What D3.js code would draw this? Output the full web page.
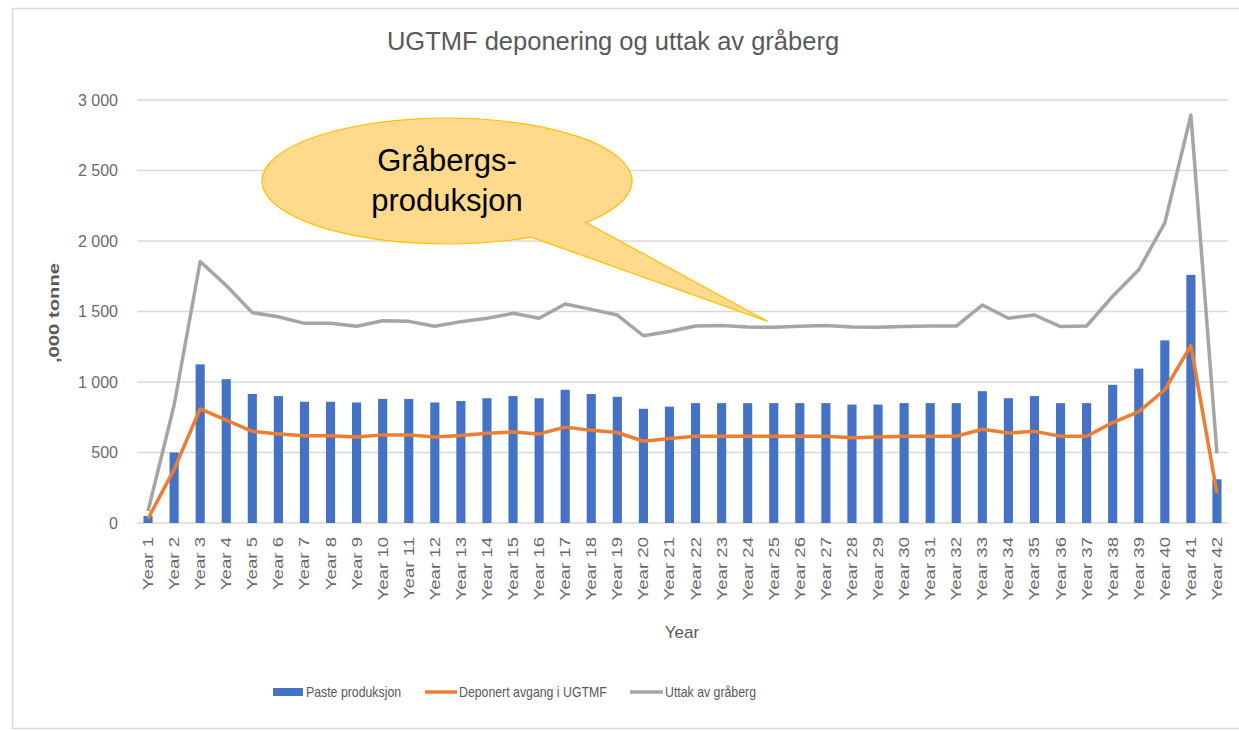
<!DOCTYPE html>
<html>
<head>
<meta charset="utf-8">
<script src="https://cdn.jsdelivr.net/npm/d3@7"></script>
<style>
  body { margin: 0; background: #fff; }
  text { font-family: "Liberation Sans", Arial, sans-serif; fill: #595959; }
</style>
</head>
<body>
<svg id="chart" width="1239" height="731"></svg>
<script>
// values
var years = d3.range(1, 43).map(function(i) { return "Year " + i; });

var pasteProd = [50, 500, 1125, 1020, 915, 900, 860, 860, 855, 880,
                 880, 855, 865, 885, 900, 885, 945, 915, 895, 810,
                 825, 850, 850, 850, 850, 850, 850, 840, 840, 850,
                 850, 850, 935, 885, 900, 850, 850, 980, 1095, 1295,
                 1760, 310];

var deponert = [30, 380, 810, 730, 650, 632, 618, 618, 610, 625,
                625, 610, 620, 636, 645, 632, 680, 657, 642, 580,
                600, 615, 615, 615, 615, 615, 615, 605, 610, 615,
                615, 615, 665, 638, 650, 615, 615, 712, 790, 945,
                1258, 212];

var uttak = [85, 835, 1855, 1685, 1492, 1463, 1416, 1416, 1395, 1435,
             1430, 1395, 1428, 1452, 1487, 1452, 1553, 1515, 1475, 1328,
             1358, 1397, 1400, 1390, 1388, 1396, 1400, 1390, 1388, 1393,
             1397, 1397, 1546, 1452, 1475, 1393, 1397, 1608, 1796, 2128,
             2893, 494];

var yTicks = [0, 500, 1000, 1500, 2000, 2500, 3000];

var seriesNames = ["Paste produksjon", "Deponert avgang i UGTMF", "Uttak av gråberg"];
var colBar = "#4472C4";
var colOrange = "#ED7D31";
var colGray = "#A5A5A5";
var gridCol = "#D9D9D9";

var svg = d3.select("#chart");

var nbLocale = d3.formatLocale({decimal: ",", thousands: " ", grouping: [3], currency: ["", ""]});
var fmt = nbLocale.format(",");

var x = d3.scaleBand()
  .domain(years)
  .range([135, 1230])
  .paddingInner(0.65)
  .paddingOuter(0.325);

var y = d3.scaleLinear()
  .domain([0, 3000])
  .range([523, 100]);

function xc(d) { return x(d) + x.bandwidth() / 2; }

// outer frame
svg.append("rect")
  .attr("x", 12.5).attr("y", 8.5)
  .attr("width", 1240).attr("height", 720)
  .attr("fill", "#fff")
  .attr("stroke", gridCol)
  .attr("stroke-width", 1.5);

// title
svg.append("text")
  .attr("x", 613).attr("y", 50)
  .attr("text-anchor", "middle")
  .style("font-size", "25.5px")
  .text("UGTMF deponering og uttak av gråberg");

// gridlines + y labels
svg.append("g")
  .selectAll("line")
  .data(yTicks)
  .enter()
  .append("line")
  .attr("x1", 137).attr("x2", 1228)
  .attr("y1", function(d) { return y(d); })
  .attr("y2", function(d) { return y(d); })
  .attr("stroke", gridCol)
  .attr("stroke-width", 1.5);

svg.append("g")
  .selectAll("text")
  .data(yTicks)
  .enter()
  .append("text")
  .attr("x", 118)
  .attr("y", function(d) { return y(d); })
  .attr("dy", "0.35em")
  .attr("text-anchor", "end")
  .style("font-size", "16px")
  .style("fill", "#6a6a6a")
  .text(function(d) { return fmt(d); });

// y axis title
svg.append("text")
  .attr("transform", "translate(59,313) rotate(-90) scale(1.35,1)")
  .attr("text-anchor", "middle")
  .style("font-size", "15px")
  .style("font-weight", "bold")
  .text(",000 tonne");

// bars
svg.append("g")
  .selectAll("rect")
  .data(years)
  .enter()
  .append("rect")
  .attr("x", function(d) { return x(d); })
  .attr("width", x.bandwidth())
  .attr("y", function(d, i) { return y(pasteProd[i]); })
  .attr("height", function(d, i) { return y(0) - y(pasteProd[i]); })
  .attr("fill", colBar);

// lines
var line = d3.line()
  .x(function(d, i) { return xc(years[i]); })
  .y(function(d) { return y(d); });

svg.append("path")
  .datum(uttak)
  .attr("d", line)
  .attr("fill", "none")
  .attr("stroke", colGray)
  .attr("stroke-width", 3.5)
  .attr("stroke-linejoin", "round");

svg.append("path")
  .datum(deponert)
  .attr("d", line)
  .attr("fill", "none")
  .attr("stroke", colOrange)
  .attr("stroke-width", 3.5)
  .attr("stroke-linejoin", "round");

// x labels (rotated)
svg.append("g")
  .selectAll("text")
  .data(years)
  .enter()
  .append("text")
  .attr("transform", function(d) { return "translate(" + (xc(d) + 5) + ",537) rotate(-90) scale(1.33,1)"; })
  .attr("text-anchor", "end")
  .style("font-size", "14px")
  .style("fill", "#6a6a6a")
  .text(function(d) { return d; });

svg.append("text")
  .attr("x", 682).attr("y", 638)
  .attr("text-anchor", "middle")
  .style("font-size", "17px")
  .text("Year");

// callout bubble
var cx = 447, cy = 181, rx = 185, ry = 63;
var a1 = 0.72, a2 = 1.1;   // angles where tail leaves the ellipse
var pA = [cx + rx * Math.cos(a1), cy + ry * Math.sin(a1)];
var pB = [cx + rx * Math.cos(a2), cy + ry * Math.sin(a2)];
var tip = [xc("Year 25") - 6, y(1430)];

svg.append("path")
  .attr("d", "M" + pA + " A" + rx + "," + ry + " 0 1 0 " + pB + " L" + tip + " Z")
  .attr("fill", "#FFD98C")
  .attr("stroke", "#FFC000")
  .attr("stroke-width", 1.2);

svg.append("text")
  .attr("x", cx).attr("y", 171)
  .attr("text-anchor", "middle")
  .style("font-size", "31px")
  .style("fill", "#000")
  .text("Gråbergs-");
svg.append("text")
  .attr("x", cx).attr("y", 211)
  .attr("text-anchor", "middle")
  .style("font-size", "31px")
  .style("fill", "#000")
  .text("produksjon");

// legend
var legend = svg.append("g").attr("transform", "translate(0,692)");
legend.append("rect")
  .attr("x", 273).attr("y", -4)
  .attr("width", 30).attr("height", 8)
  .attr("fill", colBar);
legend.append("line")
  .attr("x1", 425).attr("x2", 457)
  .attr("stroke", colOrange).attr("stroke-width", 3.5);
legend.append("line")
  .attr("x1", 630).attr("x2", 663)
  .attr("stroke", colGray).attr("stroke-width", 3.5);

legend.selectAll("text")
  .data(seriesNames)
  .enter()
  .append("text")
  .attr("transform", function(d, i) { return "translate(" + [306, 459, 665][i] + ",0) scale(0.88,1)"; })
  .attr("dy", "0.35em")
  .style("font-size", "14px")
  .text(function(d) { return d; });
</script>
</body>
</html>
